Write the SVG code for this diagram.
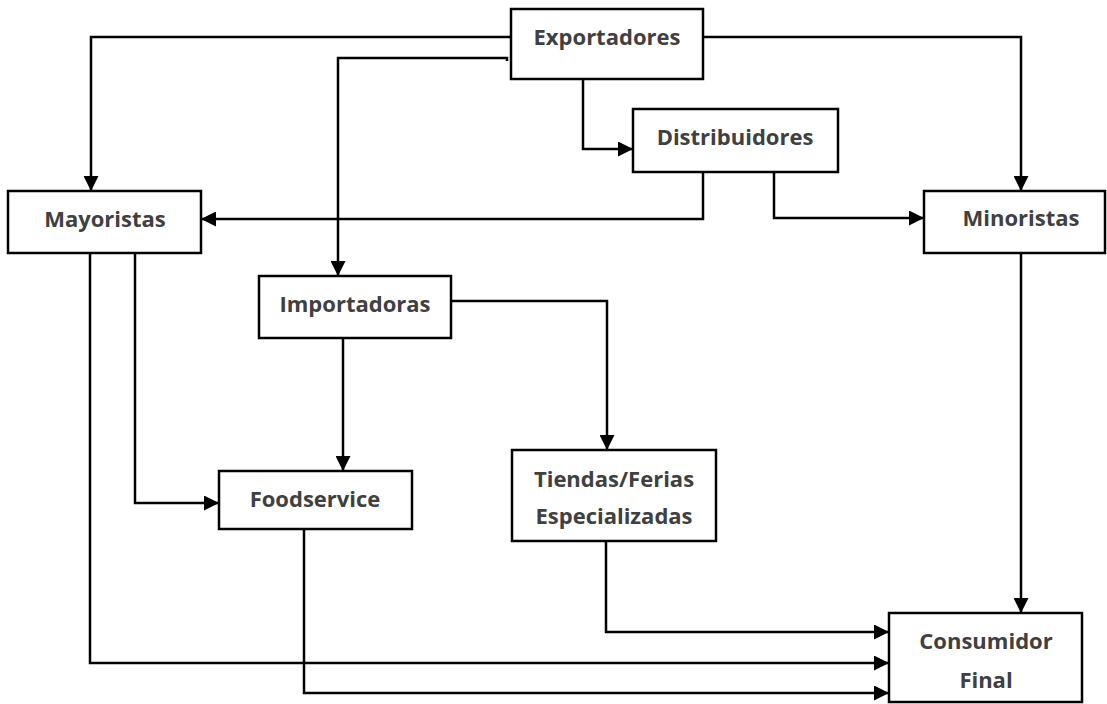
<svg xmlns="http://www.w3.org/2000/svg" width="1107" height="704" viewBox="0 0 1107 704">
<style>
.box{fill:#fff;stroke:#000;stroke-width:2.5}
.lbl{font-family:"Open Sans","Liberation Sans",sans-serif;font-weight:bold;font-size:22px;fill:#404040;text-anchor:middle}
.con{fill:none;stroke:#000;stroke-width:2.5}
</style>
<defs>
<marker id="ah" viewBox="0 0 15 15" refX="15" refY="7.5" markerWidth="15" markerHeight="15" markerUnits="userSpaceOnUse" orient="auto">
<path d="M0,0 L15,7.5 L0,15 z" fill="#000"/>
</marker>
</defs>
<rect width="1107" height="704" fill="#fff"/>
<g id="connectors">
<path class="con" d="M511,37 H91 V191" marker-end="url(#ah)"/>
<path class="con" d="M507,61 V58 H338 V276" marker-end="url(#ah)"/>
<path class="con" d="M703,37 H1021 V191" marker-end="url(#ah)"/>
<path class="con" d="M583,79 V149 H633" marker-end="url(#ah)"/>
<path class="con" d="M703,172 V219 H201" marker-end="url(#ah)"/>
<path class="con" d="M774,170 V218 H924" marker-end="url(#ah)"/>
<path class="con" d="M135,253 V503 H219" marker-end="url(#ah)"/>
<path class="con" d="M90,253 V663 H889" marker-end="url(#ah)"/>
<path class="con" d="M343,338 V471" marker-end="url(#ah)"/>
<path class="con" d="M451,301 H607 V450" marker-end="url(#ah)"/>
<path class="con" d="M304,529 V693 H889" marker-end="url(#ah)"/>
<path class="con" d="M606,541 V632 H889" marker-end="url(#ah)"/>
<path class="con" d="M1021,253 V613" marker-end="url(#ah)"/>
</g>
<g id="exportadores">
<rect class="box" x="511" y="9" width="192" height="70"/>
<text class="lbl" x="607" y="45">Exportadores</text>
</g>
<g id="distribuidores">
<rect class="box" x="633" y="109" width="205" height="63"/>
<text class="lbl" x="735" y="145">Distribuidores</text>
</g>
<g id="mayoristas">
<rect class="box" x="8" y="191" width="193" height="62"/>
<text class="lbl" x="105" y="227">Mayoristas</text>
</g>
<g id="minoristas">
<rect class="box" x="924" y="191" width="181" height="62"/>
<text class="lbl" x="1021" y="226">Minoristas</text>
</g>
<g id="importadoras">
<rect class="box" x="259" y="276" width="192" height="62"/>
<text class="lbl" x="355" y="312">Importadoras</text>
</g>
<g id="foodservice">
<rect class="box" x="219" y="471" width="193" height="58"/>
<text class="lbl" x="315" y="507">Foodservice</text>
</g>
<g id="tiendas">
<rect class="box" x="512" y="450" width="204" height="91"/>
<text class="lbl" x="614" y="487">Tiendas/Ferias</text>
<text class="lbl" x="614" y="524">Especializadas</text>
</g>
<g id="consumidor">
<rect class="box" x="889" y="613" width="193" height="89"/>
<text class="lbl" x="986" y="649">Consumidor</text>
<text class="lbl" x="986" y="688">Final</text>
</g>
</svg>
